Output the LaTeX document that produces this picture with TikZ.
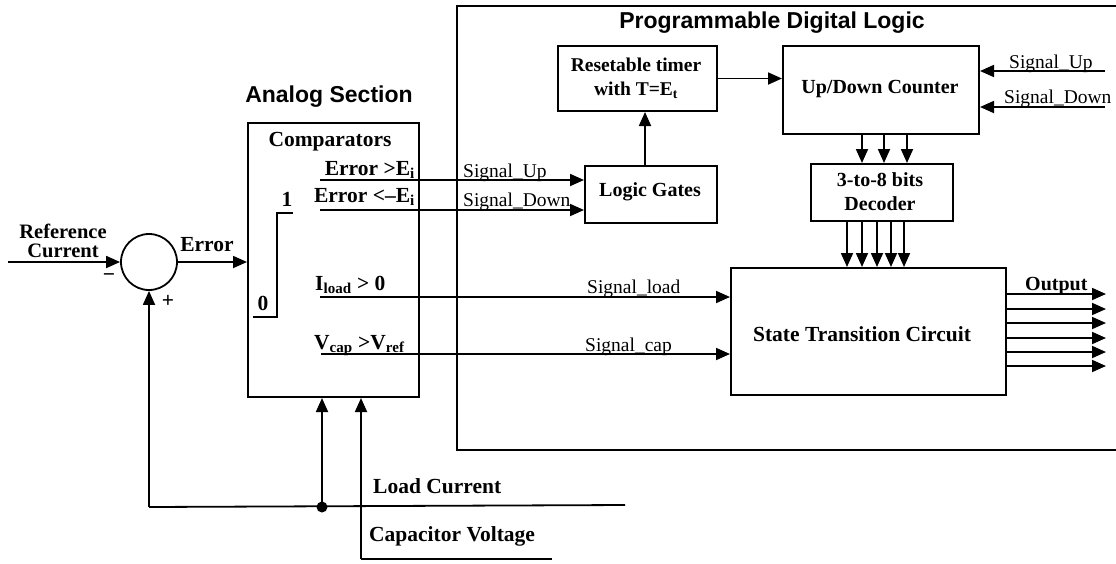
\documentclass[tikz,border=0pt]{standalone}
\usepackage{fontspec}
\setmainfont{Liberation Serif}
\newfontfamily\hd{Liberation Sans}
\usetikzlibrary{arrows.meta,calc}
\tikzset{
  box/.style={draw, line width=2pt, inner sep=0pt, anchor=north west},
  ln/.style={line width=1.8pt},
  arr/.style={line width=1.8pt, -{Triangle[length=14pt,width=12pt]}},
  lab/.style={font=\bfseries\fontsize{20}{24}\selectfont, inner sep=0pt, align=center},
  big/.style={font=\bfseries\fontsize{21.5}{24}\selectfont, inner sep=0pt, align=center},
  sig/.style={font=\fontsize{19.5}{22}\selectfont, inner sep=0pt},
  title/.style={font=\hd\bfseries\fontsize{23}{26}\selectfont, inner sep=0pt}
}
\begin{document}
\begin{tikzpicture}[x=1pt,y=-1pt]
\useasboundingbox (0,0) rectangle (1116,563);

% digital logic frame
\coordinate (frTR) at (1116,6);
\coordinate (frTL) at (457,6);
\coordinate (frBL) at (457,450);
\coordinate (frBR) at (1116,450);
\draw[ln] (frTR) -- (frTL) -- (frBL) -- (frBR);
\node[title] (tprog) at (772,23) {Programmable Digital Logic};
\node[title] (tana) at (329,97) {Analog Section};

% boxes
\node[box, minimum width=171pt, minimum height=274pt] (comp) at (247,122) {};
\node[box, minimum width=132pt, minimum height=57pt] (lg) at (584,165) {};
\node[box, minimum width=159pt, minimum height=65pt] (tm) at (557,45) {};
\node[box, minimum width=196pt, minimum height=88pt] (ctr) at (782,45) {};
\node[box, minimum width=142pt, minimum height=57pt] (dec) at (810,163) {};
\node[box, minimum width=275pt, minimum height=127pt] (st) at (730,267) {};
\node[draw, line width=1.8pt, circle, minimum size=56pt, inner sep=0pt] (sum) at (149,262) {};

% box texts
\node[big] (tcomp) at (330,142) {Comparators};
\node[lab] (tlg) at (650,192) {Logic Gates};
\node[lab, font=\bfseries\fontsize{19.5}{24}\selectfont] (ttm) at (636,78) {Resetable timer\\with T=E\textsubscript{t}};
\node[lab] (tctr) at (880,89) {Up/Down Counter};
\node[lab] (tdec) at (880,192) {3-to-8 bits\\Decoder};
\node[big] (tst) at (862,334) {State Transition Circuit};

% comparator labels
\node[big, anchor=base east] (e1) at (415,175) {Error >E\textsubscript{i}};
\node[big, anchor=base east] (e2) at (415,202) {Error <–E\textsubscript{i}};
\node[big, anchor=base west] (il) at (315,290) {I\textsubscript{load} > 0};
\node[big, anchor=base west] (vc) at (314,349) {V\textsubscript{cap} >V\textsubscript{ref}};
\node[big] (one) at (287,199) {1};
\node[big] (zero) at (263,303) {0};
\coordinate (s1) at (293,213);
\coordinate (s2) at (277,213);
\coordinate (s3) at (277,317);
\coordinate (s4) at (253,317);
\draw[line width=2.2pt] (s1) -- (s2) -- (s3) -- (s4);

% summing junction
\node[big, font=\bfseries\fontsize{20.5}{18.5}\selectfont] (tref) at (63,241) {Reference\\Current};
\coordinate (refin) at (8,262);
\draw[arr] (refin) -- (sum.west);
\node[big] (terr) at (207,245) {Error};
\draw[arr] (sum.east) -- (sum.east -| comp.west);
\node[big] (minus) at (109,278) {−};
\node[big] (plus) at (168,301) {+};

% feedback / load current / capacitor voltage
\coordinate (fbL) at (149,507);
\coordinate (jn) at (322,507);
\coordinate (lcEnd) at (625,505);
\draw[ln] (lcEnd) -- (fbL);
\draw[arr] (fbL) -- (sum.south);
\fill (jn) circle (5.5pt);
\draw[arr] (jn) -- (jn |- comp.south);
\node[big, anchor=base west] (tlc) at (373,493) {Load Current};
\coordinate (cvEnd) at (552,559);
\coordinate (cvC) at (361,559);
\draw[ln] (cvEnd) -- (cvC);
\draw[arr] (cvC) -- (cvC |- comp.south);
\node[big, anchor=base west] (tcv) at (369,541) {Capacitor Voltage};

% comparator outputs
\coordinate (o1) at (320,180);
\coordinate (o2) at (320,210);
\coordinate (o3) at (320,297);
\coordinate (o4) at (321,354);
\draw[arr] (o1) -- (o1 -| lg.west);
\draw[arr] (o2) -- (o2 -| lg.west);
\draw[arr] (o3) -- (o3 -| st.west);
\draw[arr] (o4) -- (o4 -| st.west);
\node[sig, anchor=base west] (sup) at (463,177) {Signal\_Up};
\node[sig, anchor=base west] (sdn) at (463,206) {Signal\_Down};
\node[sig, anchor=base west] (sld) at (587,293) {Signal\_load};
\node[sig, anchor=base west] (scp) at (585,351) {Signal\_cap};

% logic gates -> timer -> counter
\coordinate (lgup) at ($(lg.north)+(-6,0)$);
\draw[arr] (lgup) -- (lgup |- tm.south);
\draw[arr] (tm.east) -- (tm.east -| ctr.west);

% right inputs of counter
\coordinate (ru) at (1105,71);
\coordinate (rd) at (1105,107);
\draw[arr] (ru) -- (ru -| ctr.east);
\draw[arr] (rd) -- (rd -| ctr.east);
\node[sig, anchor=base west] (rsu) at (1009,68) {Signal\_Up};
\node[sig, anchor=base west] (rsd) at (1004,103) {Signal\_Down};

% counter -> decoder
\foreach \x/\n in {862/a,884/b,907/c}{
  \coordinate (cd\n) at (\x,133);
  \draw[arr] (cd\n) -- (cd\n |- dec.north);
}
% decoder -> state transition
\foreach \x/\n in {847/a,862/b,877/c,891/d,904/e}{
  \coordinate (ds\n) at (\x,220);
  \draw[arr] (ds\n) -- (ds\n |- st.north);
}
% outputs
\foreach \y/\n in {294/a,309/b,323/c,338/d,352/e,366/f}{
  \coordinate (ot\n) at (1106,\y);
  \draw[arr] (ot\n -| st.east) -- (ot\n);
}
\node[lab, anchor=base west] (tout) at (1025,290) {Output};
\end{tikzpicture}
\end{document}
